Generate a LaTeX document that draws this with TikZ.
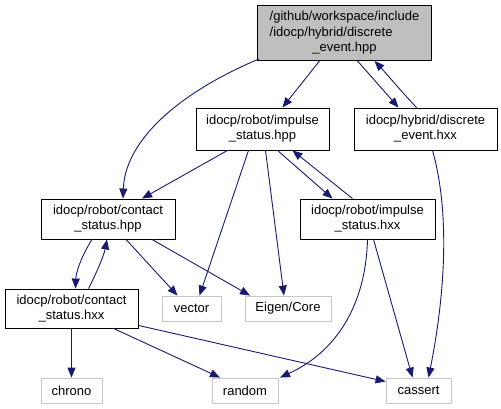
\documentclass[tikz,border=0pt]{standalone}
\usepackage{fontspec}
\setmainfont{Liberation Sans}
\usetikzlibrary{arrows.meta,calc}
\definecolor{edgeblue}{RGB}{25,25,112}
\definecolor{boxgray}{RGB}{191,191,191}
\definecolor{litgray}{RGB}{200,200,200}
\begin{document}
\begin{tikzpicture}[x=1pt,y=-1pt,
  box/.style={draw=black,line width=0.9pt,inner sep=0pt,align=center,font=\fontsize{13}{15}\selectfont},
  sysbox/.style={draw=litgray,line width=0.9pt,inner sep=0pt,align=center,font=\fontsize{13}{15}\selectfont},
  edge/.style={draw=edgeblue,line width=0.9pt,-{Triangle[length=10pt,width=8pt]}}]
\useasboundingbox (0,0) rectangle (501,409);
\node[box,fill=boxgray,minimum width=174pt,minimum height=55pt] (top) at (344.5,33) {\renewcommand{\arraystretch}{1.02}\begin{tabular}{@{}l@{}}/github/workspace/include\\/idocp/hybrid/discrete\\\multicolumn{1}{@{}c@{}}{\_event.hpp}\end{tabular}};
\node[box,minimum width=133pt,minimum height=42pt] (ihpp) at (262.5,129) {idocp/robot/impulse\\\_status.hpp};
\node[box,minimum width=143pt,minimum height=42pt] (dhxx) at (425.5,129) {idocp/hybrid/discrete\\\_event.hxx};
\node[box,minimum width=134pt,minimum height=40pt] (chpp) at (108,219) {idocp/robot/contact\\\_status.hpp};
\node[box,minimum width=135pt,minimum height=40pt] (ihxx) at (367.5,219) {idocp/robot/impulse\\\_status.hxx};
\node[box,minimum width=133pt,minimum height=39pt] (chxx) at (71.5,308.5) {idocp/robot/contact\\\_status.hxx};
\node[sysbox,minimum width=59pt,minimum height=25pt] (vector) at (191.5,308.5) {vector};
\node[sysbox,minimum width=86pt,minimum height=25pt] (eigen) at (288,308.5) {Eigen/Core};
\node[sysbox,minimum width=61pt,minimum height=25pt] (chrono) at (71.5,390.5) {chrono};
\node[sysbox,minimum width=66pt,minimum height=25pt] (random) at (245,390.5) {random};
\node[sysbox,minimum width=65pt,minimum height=25pt] (cassert) at (418.5,390.5) {cassert};

\draw[edge] ($(top.south west)+(2,-2)$) .. controls (180,92) and (125,140) .. ($(chpp.north)+(15,0)$);
\draw[edge] ($(top.south)+(-25,0)$) -- ($(ihpp.north)+(20,0)$);
\draw[edge] ($(top.south)+(13,0)$) -- ($(dhxx.north)+(-27,0)$);
\draw[edge] ($(dhxx.north)+(-9,0)$) .. controls (400,90) and (385,72) .. ($(top.south)+(30,0)$);
\draw[edge] ($(ihpp.south)+(-35,0)$) -- ($(chpp.north)+(34,0)$);
\draw[edge] ($(ihpp.south)+(-14,0)$) -- ($(vector.north)+(8,0)$);
\draw[edge] ($(ihpp.south)+(3,0)$) -- ($(eigen.north)+(-4,0)$);
\draw[edge] ($(ihpp.south)+(15,0)$) -- ($(ihxx.north)+(-35,0)$);
\draw[edge] ($(ihxx.north)+(-15,0)$) -- ($(ihpp.south)+(30,0)$);
\draw[edge] ($(dhxx.south)+(7,0)$) .. controls (455,230) and (438,330) .. ($(cassert.north)+(10,0)$);
\draw[edge] ($(chpp.south)+(-16,0)$) .. controls (82,255) and (76,272) .. ($(chxx.north)+(4,0)$);
\draw[edge] ($(chxx.north)+(17,0)$) .. controls (97,272) and (104,255) .. ($(chpp.south)+(-1,0)$);
\draw[edge] ($(chpp.south)+(18,0)$) -- ($(vector.north)+(-14,0)$);
\draw[edge] ($(chpp.south)+(44,0)$) -- ($(eigen.north)+(-38,0)$);
\draw[edge] ($(ihxx.south)+(0,0)$) .. controls (366,300) and (340,350) .. ($(random.north)+(35,0)$);
\draw[edge] ($(ihxx.south)+(6,0)$) -- ($(cassert.north)+(-6,0)$);
\draw[edge] (chxx.south) -- (chrono.north);
\draw[edge] ($(chxx.south)+(42,0)$) -- ($(random.north)+(-25,0)$);
\draw[edge] ($(chxx.south east)+(0,-3)$) -- ($(cassert.north west)+(0,4)$);
\end{tikzpicture}
\end{document}
